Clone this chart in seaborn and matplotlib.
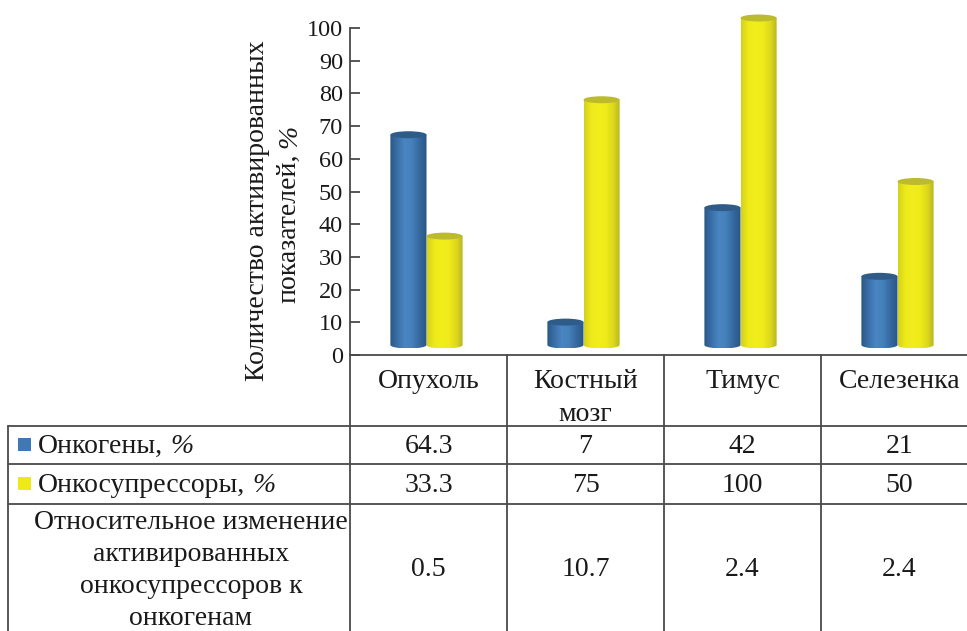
import numpy as np
import pandas as pd
import matplotlib
matplotlib.use("Agg")
import matplotlib.pyplot as plt
import matplotlib.transforms as mtransforms
from matplotlib.colors import LinearSegmentedColormap
from matplotlib.patches import Ellipse, PathPatch
from matplotlib.path import Path
from matplotlib.lines import Line2D
import seaborn as sns

# ---- data ----
tissues = ["Опухоль", "Костный\nмозг", "Тимус", "Селезенка"]
oncogenes = [64.3, 7, 42, 21]
suppressors = [33.3, 75, 100, 50]
ratio = [0.5, 10.7, 2.4, 2.4]
series_names = ["Онкогены", "Онкосупрессоры"]
ratio_label = "Относительное изменение\nактивированных\nонкосупрессоров к\nонкогенам"
y_ticks = list(range(0, 101, 10))

df = pd.DataFrame({
    "tissue": tissues * 2,
    "value": oncogenes + suppressors,
    "series": [series_names[0]] * 4 + [series_names[1]] * 4,
})

sns.set_theme(style="white")
plt.rcParams["font.family"] = ["Liberation Serif", "DejaVu Serif"]

W, H = 967, 631
DPI = 100
FS = 20        # table and axis-title text
TFS = 17.5     # tick labels
INK = "#1a1a1a"
LINE = "#4a4a4a"
LW = 1.3


def fx(px):
    return px / W


def fy(py):
    return 1 - py / H


fig = plt.figure(figsize=(W / DPI, H / DPI), dpi=DPI)
fig.patch.set_facecolor("white")

# plotting area: y=0 at 355 px, y=100 at 28 px, 157 px per category
ax = fig.add_axes([fx(350), fy(355), 628 / W, (355 - 28) / H])
ax.set_facecolor("none")

blue, yellow = "#3f78b2", "#eeea1a"
sns.barplot(data=df, x="tissue", y="value", hue="series",
            palette=[blue, yellow], width=0.46, gap=0, legend=False,
            ax=ax, zorder=2)

ax.set_xlim(-0.5, 3.5)
ax.set_ylim(0, 100)

# 3D-like cylinders built on top of each seaborn bar
cmaps = {
    "blue": LinearSegmentedColormap.from_list(
        "cyl_b", ["#2a5785", "#3a70a8", "#4a86c2", "#4580bb", "#3568a0", "#2a5583"]),
    "yellow": LinearSegmentedColormap.from_list(
        "cyl_y", ["#d4d11c", "#eeea1a", "#f2ee1c", "#efeb1a", "#dcd81c", "#b3b025"]),
}
tops = {"blue": "#2f5b88", "yellow": "#bcbb2e"}
offset = mtransforms.ScaledTranslation(-2 / DPI, 10 / DPI, fig.dpi_scale_trans)
tr = ax.transData + offset
eh = 7 / 3.27  # ellipse height in data units

for patch in list(ax.patches):
    x0 = patch.get_x()
    w = patch.get_width()
    h = patch.get_height()
    fc = patch.get_facecolor()
    key = "blue" if fc[2] > fc[0] else "yellow"
    patch.set_visible(False)
    cx = x0 + w / 2
    t = np.linspace(np.pi, 2 * np.pi, 40)
    verts = ([(x0, h), (x0, 0)]
             + [(cx + w / 2 * np.cos(a), eh / 2 * np.sin(a)) for a in t]
             + [(x0 + w, h), (x0, h)])
    codes = [Path.MOVETO] + [Path.LINETO] * (len(verts) - 2) + [Path.CLOSEPOLY]
    clip = PathPatch(Path(verts, codes), transform=tr, facecolor="none",
                     edgecolor="none", clip_on=False)
    ax.add_patch(clip)
    im = ax.imshow(np.linspace(0, 1, 128)[None, :], cmap=cmaps[key], aspect="auto",
                   extent=[x0, x0 + w, -eh / 2, h], interpolation="bilinear", zorder=3)
    im.set_transform(tr)
    im.set_clip_path(clip)
    im.set_clip_box(fig.bbox)
    ax.add_patch(Ellipse((cx, h), w, eh, transform=tr, facecolor=tops[key],
                         edgecolor="none", zorder=4, clip_on=False))

ax.set_xlim(-0.5, 3.5)
ax.set_ylim(0, 100)

# axes styling
for s in ["top", "right"]:
    ax.spines[s].set_visible(False)
for s in ["left", "bottom"]:
    ax.spines[s].set_color(LINE)
    ax.spines[s].set_linewidth(LW)
ax.set_yticks(y_ticks)
ax.set_yticklabels([str(v) for v in y_ticks])
ax.tick_params(axis="y", direction="in", length=7, width=LW, color=LINE,
               labelsize=TFS, pad=5, left=True, labelcolor=INK)
ax.set_xticks([])
ax.set_xlabel("")
ax.set_ylabel("")

# axis title, two rotated lines centred on the same height
fig.text(fx(257), fy(211), "Количество активированных", rotation=90,
         ha="center", va="center", fontsize=FS, color=INK)
t2 = fig.text(fx(289), fy(303), "показателей,", rotation=90,
              ha="center", va="bottom", fontsize=FS, color=INK)
ax.annotate("%", xy=(fx(290), 1), xycoords=(fig.transFigure, t2),
            xytext=(0, 4), textcoords="offset points", rotation=90,
            ha="center", va="bottom", fontsize=FS, style="italic",
            color=INK, annotation_clip=False)

# ---- data table below the plot ----
bt = mtransforms.blended_transform_factory(ax.transData, fig.transFigure)

# horizontal grid lines of the table
for py in (426, 464, 504):
    fig.add_artist(Line2D([fx(8), 1], [fy(py), fy(py)], color=LINE, lw=LW))
# left border of the table
fig.add_artist(Line2D([fx(8), fx(8)], [fy(426), 0], color=LINE, lw=LW))
# column separators (from the category axis downward)
for b in [-0.5, 0.5, 1.5, 2.5, 3.5]:
    fig.add_artist(Line2D([b, b], [fy(355), 0], color=LINE, lw=LW, transform=bt))

# column headers
for i, name in enumerate(tissues):
    parts = name.split("\n")
    fig.text(i, fy(388), parts[0], transform=bt, ha="center",
             va="baseline", fontsize=FS, color=INK)
    if len(parts) > 1:
        fig.text(i, fy(421), parts[1], transform=bt, ha="center",
                 va="baseline", fontsize=FS, color=INK)

# series rows with colour keys
row_base = [453, 492]
for name, color, vals, yb in zip(series_names, [blue, yellow],
                                 [oncogenes, suppressors], row_base):
    fig.add_artist(plt.Rectangle((fx(18), fy(yb - 2)), 13 / W, 13 / H,
                                 facecolor=color, edgecolor="none"))
    lbl = fig.text(fx(38), fy(yb), name + ",", ha="left", va="baseline",
                   fontsize=FS, color=INK)
    ax.annotate("%", xy=(1, fy(yb)), xycoords=(lbl, fig.transFigure),
                xytext=(5, 0), textcoords="offset points", ha="left",
                va="baseline", fontsize=FS, style="italic", color=INK,
                annotation_clip=False)
    for i, v in enumerate(vals):
        fig.text(i, fy(yb), f"{v:g}", transform=bt, ha="center",
                 va="baseline", fontsize=FS, color=INK)

# ratio row
for k, line in enumerate(ratio_label.split("\n")):
    fig.text(fx(191), fy(529 + 32 * k), line, ha="center", va="baseline",
             fontsize=FS, color=INK)
for i, v in enumerate(ratio):
    fig.text(i, fy(576), f"{v:g}", transform=bt, ha="center", va="baseline",
             fontsize=FS, color=INK)

fig.savefig("out.png", dpi=DPI, facecolor="white")
